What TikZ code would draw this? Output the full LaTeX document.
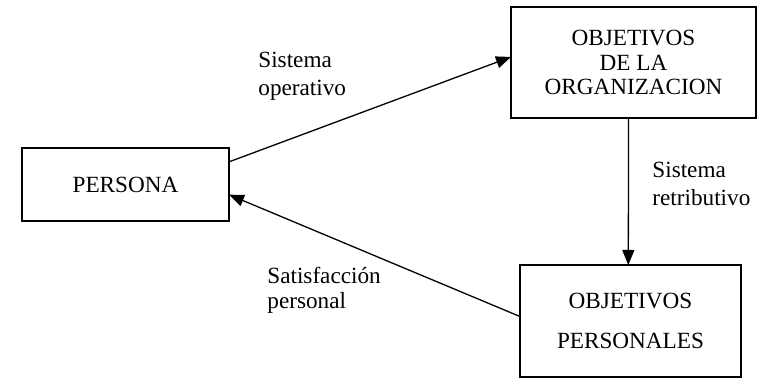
\documentclass[tikz,border=0pt]{standalone}
\usepackage{fontspec}
\setmainfont{Liberation Serif}
\usetikzlibrary{arrows.meta,calc}
\tikzset{
  box/.style={draw, line width=0.85pt, inner sep=0pt, outer sep=0pt, align=center,
    font=\fontsize{11.6}{12.3}\selectfont},
  lbl/.style={inner sep=0pt, align=left, anchor=west,
    font=\fontsize{11.6}{14}\selectfont},
  flow/.style={line width=0.65pt, -{Triangle[length=7.5pt,width=6pt]}}
}
\begin{document}
\begin{tikzpicture}[x=0.5pt, y=-0.5pt]
  \useasboundingbox (0,0) rectangle (762,378);
  % boxes
  \node[box, minimum width=103.5pt, minimum height=36.5pt] (per) at (125.5,184.5) {PERSONA};
  \node[box, minimum width=122.5pt, minimum height=55.5pt] (org) at (633.5,62.5)
    {OBJETIVOS\\DE LA\\ORGANIZACION};
  \node[box, minimum width=110.5pt, minimum height=56pt,
    font=\fontsize{11.6}{20}\selectfont] (pers) at (630.5,321) {OBJETIVOS\\PERSONALES};
  % connector ends on the box borders
  \coordinate (a1) at ($(per.north east)!0.19!(per.south east)$);
  \coordinate (b1) at ($(org.north west)!0.45!(org.south west)$);
  \coordinate (a2) at ($(org.south west)!0.48!(org.south east)$);
  \coordinate (b2) at ($(pers.north west)!0.49!(pers.north east)$);
  \coordinate (a3) at ($(pers.north west)!0.46!(pers.south west)$);
  \coordinate (b3) at ($(per.north east)!0.64!(per.south east)$);
  % flows
  \draw[flow] (a1) -- (b1);
  \draw[flow] (a2) -- (b2);
  \draw[flow] (a3) -- (b3);
  % labels
  \node[lbl] (l1) at (258,76) {Sistema\\operativo};
  \node[lbl] (l2) at (652,184) {Sistema\\retributivo};
  \node[lbl, font=\fontsize{11.6}{12.5}\selectfont] (l3) at (267,290) {Satisfacción\\personal};
\end{tikzpicture}
\end{document}
